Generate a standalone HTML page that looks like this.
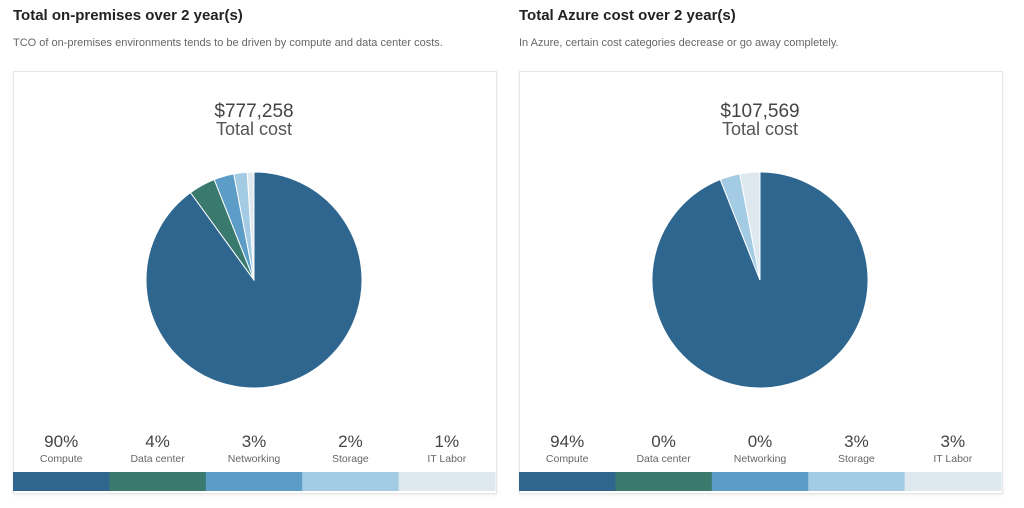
<!DOCTYPE html>
<html><head><meta charset="utf-8"><style>
body{margin:0;width:1024px;height:508px;background:#fff;font-family:"Liberation Sans",sans-serif;position:relative;overflow:hidden}
.t{position:absolute;top:7px;font-size:15px;font-weight:bold;color:#222}
.s{position:absolute;top:37px;font-size:11px;color:#666}
.card{position:absolute;top:71px;width:482px;height:421px;border:1px solid #e6e6e6;box-shadow:0 1px 3px rgba(0,0,0,.08);background:#fff}
svg{position:absolute;left:0;top:0}
</style></head><body>
<div class="t" style="left:13px">Total on-premises over 2 year(s)</div>
<div class="s" style="left:13px">TCO of on-premises environments tends to be driven by compute and data center costs.</div>
<div class="t" style="left:519px">Total Azure cost over 2 year(s)</div>
<div class="s" style="left:519px">In Azure, certain cost categories decrease or go away completely.</div>
<div class="card" style="left:13px"></div>
<div class="card" style="left:519px"></div>
<svg id="c" width="1024" height="508"></svg>
<script>
const categories=["Compute","Data center","Networking","Storage","IT Labor"];
const onPremValues=[90,4,3,2,1];
const azureValues=[94,0,0,3,3];
const totals=["$777,258","$107,569"];
const colors=["#2e6690","#3a7a6e","#5b9dc6","#a4cbe4","#dde8ef"];
const NS="http://www.w3.org/2000/svg";
const svg=document.getElementById("c");
function mk(t,a){const e=document.createElementNS(NS,t);for(const k in a)e.setAttribute(k,a[k]);svg.appendChild(e);return e;}
function draw(vals,x0,total,id){
  const cx=x0+241,cy=280,r=108;
  const sum=vals.reduce((a,b)=>a+b,0);
  let t=mk("text",{x:cx,y:117,"text-anchor":"middle","font-size":"19",fill:"#444"});t.textContent=total;
  
  
  t=mk("text",{x:cx,y:135,"text-anchor":"middle","font-size":"18",fill:"#555"});t.textContent="Total cost";
  
  
  let a=0;
  vals.forEach((v,i)=>{
    if(v<=0)return;
    const a0=a/sum*2*Math.PI,a1=(a+v)/sum*2*Math.PI;a+=v;
    const p=(ang)=>[cx+r*Math.sin(ang),cy-r*Math.cos(ang)];
    const [x1,y1]=p(a0),[x2,y2]=p(a1);
    const s=mk("path",{d:`M${cx},${cy}L${x1},${y1}A${r},${r} 0 ${a1-a0>Math.PI?1:0} 1 ${x2},${y2}Z`,fill:colors[i],stroke:"#fff","stroke-width":"1"});
    
    
  });
  const w=482/5;
  vals.forEach((v,i)=>{
    const lx=x0+w*i+w/2;
    let p=mk("text",{x:lx,y:447,"text-anchor":"middle","font-size":"17",fill:"#444"});p.textContent=v+"%";
    
    
    p=mk("text",{x:lx,y:462,"text-anchor":"middle","font-size":"10.5",fill:"#666"});p.textContent=categories[i];
    
    
    const b=mk("rect",{x:x0+w*i,y:472,width:w+0.5,height:19,fill:colors[i]});
    
    
  });
}
draw(onPremValues,13,totals[0],"onprem");
draw(azureValues,519,totals[1],"azure");
</script>
</body></html>
